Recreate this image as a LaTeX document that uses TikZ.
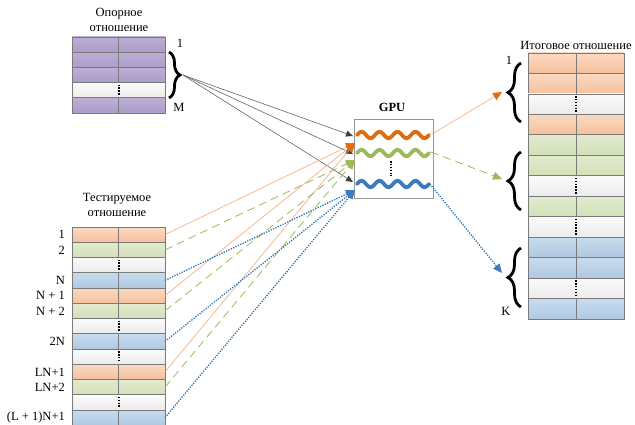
\documentclass[tikz,border=0pt]{standalone}
\usepackage{fontspec}
\setmainfont{Liberation Serif}
\usetikzlibrary{arrows.meta,decorations.pathreplacing}
\definecolor{gridgray}{HTML}{7A7A7A}
\definecolor{orT}{HTML}{FBD9C2}
\definecolor{orB}{HTML}{F5C09C}
\definecolor{grT}{HTML}{E2EBD0}
\definecolor{grB}{HTML}{D3E0B8}
\definecolor{blT}{HTML}{C9DBEE}
\definecolor{blB}{HTML}{AFC9E2}
\definecolor{puT}{HTML}{BCAFD4}
\definecolor{puB}{HTML}{AC9CC8}
\definecolor{whT}{HTML}{FBFBFB}
\definecolor{whB}{HTML}{EBEBEB}
\definecolor{waveor}{HTML}{E36C0A}
\definecolor{wavegr}{HTML}{9BBB59}
\definecolor{wavebl}{HTML}{3F7BBB}
\definecolor{lineor}{HTML}{F4A874}
\definecolor{linegr}{HTML}{9BBB59}
\definecolor{linebl}{HTML}{2E75B6}

\begin{document}
\begin{tikzpicture}[x=1pt,y=-1pt,every node/.style={font=\fontsize{12.5}{15.5}\selectfont},
	cell/.style={draw=gridgray,line width=.8pt,minimum width=93pt,anchor=north west,inner sep=0pt,outer sep=0pt},
	orrow/.style={cell,top color=orT,bottom color=orB},
	grrow/.style={cell,top color=grT,bottom color=grB},
	blrow/.style={cell,top color=blT,bottom color=blB},
	purow/.style={cell,top color=puT,bottom color=puB},
	whrow/.style={cell,top color=whT,bottom color=whB},
	divider/.style={draw=gridgray,line width=.8pt},
	rowdots/.style={line width=2pt,dash pattern=on 1.6pt off 1.3pt,shorten <=2pt,shorten >=2pt},
	bigbrace/.style={decorate,decoration={brace,amplitude=11pt},line width=2.8pt},
	wave/.style={line width=3.8pt,line cap=round},
	feed/.style={draw=black!60,line width=.6pt,-{Triangle[length=7pt,width=6pt,color=black!75]}},
	oline/.style={lineor,line width=.6pt,-{Triangle[length=9pt,width=8pt,color=waveor]}},
	gline/.style={linegr,line width=.8pt,dash pattern=on 8pt off 5pt,-{Triangle[length=9pt,width=8pt,color=wavegr]}},
	bline/.style={linebl,line width=1.3pt,dash pattern=on 1.3pt off 1.3pt,-{Triangle[length=9pt,width=8pt,color=wavebl]}}]
	\useasboundingbox (0,0) rectangle (635,425);
	\node[align=center] (reftitle) at (119,20) {Опорное\\отношение};
	\foreach \c [count=\i from 0] in {purow,purow,purow,whrow,purow}
		\node[\c,minimum height=15.2pt] (ref\i) at (72,{37+15.2*\i}) {};
	\foreach \i in {0,1,2,4} \draw[divider] (ref\i.north) -- (ref\i.south);
	\draw[rowdots] (ref3.north) -- (ref3.south);
	\draw[bigbrace] (169,52) -- (169,98);
	\coordinate (refbr) at (183,75);
	\node (refone) at (180,43) {1};
	\node (refm) at (179,107) {M};
	\node[align=center] (tsttitle) at (117,205) {Тестируемое\\отношение};
	\foreach \c [count=\i from 0] in {orrow,grrow,whrow,blrow,orrow,grrow,whrow,blrow,whrow,orrow,grrow,whrow,blrow}
		\node[\c,minimum height=15.25pt] (tst\i) at (72,{227+15.25*\i}) {};
	\foreach \i in {0,1,3,4,5,7,9,10,12} \draw[divider] (tst\i.north) -- (tst\i.south);
	\foreach \i in {2,6,8,11} \draw[rowdots] (tst\i.north) -- (tst\i.south);
	\foreach \i/\t in {0/1,1/2,3/N,4/N + 1,5/N + 2,7/2N,9/LN+1,10/LN+2,12/(L + 1)N+1}
		\node[anchor=east,inner sep=0pt] (lbl\i) at ([xshift=-7pt]tst\i.west) {\t};
	\node[draw=gridgray!80,line width=.6pt,minimum width=79pt,minimum height=79pt,anchor=north west] (gpu) at (354,119) {};
	\node[font=\fontsize{12.5}{15}\selectfont\bfseries] (gpulabel) at (392,107) {GPU};
	\draw[wave,waveor] plot[domain=0:72,samples=73,smooth] ({357+\x},{135-3.2*sin(20*\x)});
	\draw[wave,wavegr] plot[domain=0:72,samples=73,smooth] ({357+\x},{153-3.2*sin(20*\x)});
	\draw[wave,wavebl] plot[domain=0:72,samples=73,smooth] ({357+\x},{184-3.2*sin(20*\x)});
	\draw[rowdots] (391,159) -- (391,178);
	\coordinate (fin1) at (353,136);
	\coordinate (fin2) at (353,154);
	\coordinate (fin3) at (353,182);
	\coordinate (oin) at (355,143);
	\coordinate (gin) at (355,160);
	\coordinate (bin) at (355,190);
	\coordinate (oout) at (432,134);
	\coordinate (gout) at (431,152);
	\coordinate (bout) at (430,184);
	\foreach \f in {fin1,fin2,fin3} \draw[feed] (refbr) -- (\f);
	\foreach \i in {0,4,9} \draw[oline] (tst\i.east) -- (oin);
	\foreach \i in {1,5,10} \draw[gline] (tst\i.east) -- (gin);
	\foreach \i in {3,7,12} \draw[bline] (tst\i.east) -- (bin);
	\node (restitle) at (576,45) {Итоговое отношение};
	\foreach \c [count=\i from 0] in {orrow,orrow,whrow,orrow,grrow,grrow,whrow,grrow,whrow,blrow,blrow,whrow,blrow}
		\node[\c,minimum width=96pt,minimum height=20.46pt] (res\i) at (528,{53+20.46*\i}) {};
	\foreach \i in {0,1,3,4,5,7,9,10,12} \draw[divider] (res\i.north) -- (res\i.south);
	\foreach \i in {2,6,8,11} \draw[rowdots] (res\i.north) -- (res\i.south);
	\draw[bigbrace,decoration={amplitude=13pt}] (521,122) -- (521,63);
	\draw[bigbrace,decoration={amplitude=13pt}] (521,210) -- (521,152);
	\draw[bigbrace,decoration={amplitude=13pt}] (521,307) -- (521,248);
	\coordinate (resbr1) at (502,92);
	\coordinate (resbr2) at (502,179);
	\coordinate (resbr3) at (502,273);
	\node (resone) at (509,60) {1};
	\node (resk) at (506,311) {K};
	\draw[oline] (oout) -- (resbr1);
	\draw[gline] (gout) -- (resbr2);
	\draw[bline] (bout) -- (resbr3);
\end{tikzpicture}
\end{document}
